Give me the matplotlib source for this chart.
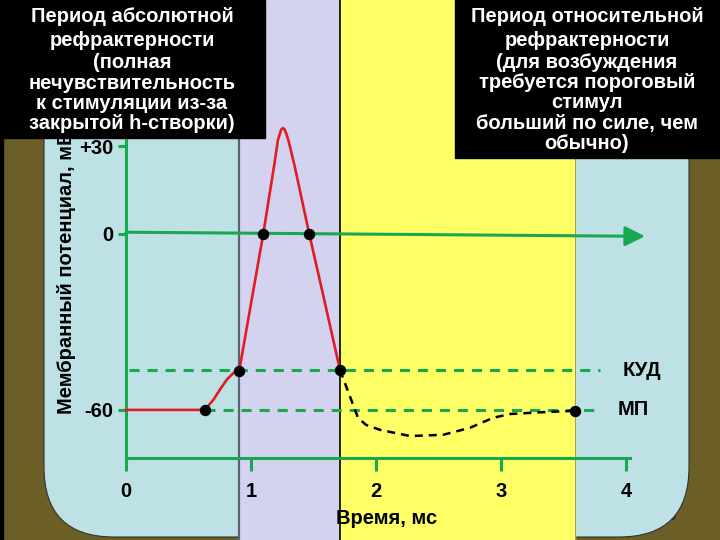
import matplotlib
matplotlib.use('Agg')
import matplotlib.pyplot as plt
from matplotlib.patches import Rectangle, FancyBboxPatch

plt.rcParams['font.family'] = ['Liberation Sans', 'DejaVu Sans']

# --- data (time in ms, potential in mV) ---
t_red = [0.0, 0.63, 0.70, 0.76, 0.81, 0.86, 0.906, 1.098, 1.192, 1.215, 1.24, 1.254,
         1.268, 1.285, 1.302, 1.35, 1.466, 1.592, 1.712]
v_red = [-60, -60, -56.5, -52.5, -49.5, -47.4, -46.6, 0, 25.2, 32.0, 35.5, 36.1,
         35.7, 33.9, 31.5, 23.0, 0, -23.6, -46.4]

t_rel = [1.712, 1.856, 1.92, 2.032, 2.272, 2.536, 2.752, 2.936, 3.072, 3.368, 3.592]
v_rel = [-46.4, -62.7, -65.1, -66.8, -68.9, -68.5, -66.1, -62.7, -61.4, -60.7, -60.3]

t_dots = [0.63, 0.906, 1.098, 1.466, 1.712, 3.592]
v_dots = [-60, -46.6, 0, 0, -46.4, -60.3]

kud_level = -46.4
mp_level = -60

x_ticks = [0, 1, 2, 3, 4]
y_ticks = [-60, 0, 30]
y_tick_labels = ['-60', '0', '+30']

left_box_lines = ['Период абсолютной', 'рефрактерности', '(полная',
                  'нечувствительность', 'к стимуляции из-за', 'закрытой h-створки)']
right_box_lines = ['Период относительной', 'рефрактерности', '(для возбуждения',
                   'требуется пороговый', 'стимул', 'больший по силе, чем', 'обычно)']

green = '#19a752'
red = '#e31b23'
fs = 14.5

fig = plt.figure(figsize=(7.2, 5.4), dpi=100)

# background / decoration in pixel coordinates
bg = fig.add_axes([0, 0, 1, 1])
bg.set_xlim(0, 720)
bg.set_ylim(540, 0)
bg.axis('off')
bg.add_patch(Rectangle((0, 0), 720, 540, color='#6b5e27', zorder=0))
bg.add_patch(Rectangle((0, 0), 3, 540, color='black', zorder=0.2))
bg.text(668, 516, '43', fontsize=12, color='#2e2e2e', ha='center', va='center', zorder=0.5)
bg.add_patch(FancyBboxPatch((44 + 70, -100 + 70), 645 - 140, 637 - 140,
                            boxstyle='round,pad=70', fc='#bde1e4', ec='#333333', lw=0.8, zorder=1))
bg.add_patch(Rectangle((239, 0), 101, 540, color='#d3d3ef', zorder=2))
bg.add_patch(Rectangle((340, 0), 235, 540, color='#ffff66', zorder=2))
bg.axvline(239, color='#5b6270', lw=1.6, zorder=3)
bg.axvline(340, color='black', lw=1.2, zorder=3)
bg.axvline(575, color='#8a8a60', lw=0.6, zorder=3)

bg.text(67, 272, 'Мембранный потенциал, мВ', rotation=90, fontsize=fs,
        fontweight='bold', ha='center', va='center', zorder=4)
bg.text(387, 519, 'Время, мс', fontsize=fs, fontweight='bold',
        ha='center', va='center', zorder=4)

bg.add_patch(Rectangle((0, 0), 265, 138, color='black', zorder=5))
bg.add_patch(Rectangle((455, 0), 265, 158, color='black', zorder=5))
left_y = [22, 46, 68, 89, 109, 129]
right_y = [22, 46, 68, 88, 108, 129, 149]
for s, y in zip(left_box_lines, left_y):
    bg.text(132, y, s, color='white', fontsize=14.5, fontweight='bold',
            ha='center', va='baseline', zorder=6)
for s, y in zip(right_box_lines, right_y):
    bg.text(587, y, s, color='white', fontsize=14.5, fontweight='bold',
            ha='center', va='baseline', zorder=6)

# chart axes: 125 px per ms, about 2.93 px per mV
ax = fig.add_axes([126 / 720, 1 - 458 / 540, 504 / 720, 318 / 540])
ax.set_zorder(2)
ax.patch.set_visible(False)
ax.set_xlim(0, 4.032)
ax.set_ylim(-76.4, 32.05)
for side in ['top', 'right']:
    ax.spines[side].set_visible(False)
for side in ['left', 'bottom']:
    ax.spines[side].set_color(green)
    ax.spines[side].set_linewidth(2.2)

ax.set_xticks(x_ticks)
ax.set_xticklabels([str(v) for v in x_ticks], fontsize=fs, fontweight='bold')
ax.set_yticks(y_ticks)
ax.set_yticklabels(y_tick_labels, fontsize=fs, fontweight='bold')
ax.tick_params(axis='x', direction='out', length=9, width=2.2, color=green, pad=8)
ax.tick_params(axis='y', direction='out', length=6, width=2.2, color=green, pad=3)

ax.hlines(kud_level, 0.02, 3.79, colors=green, lw=2.2, linestyles=(0, (3.3, 2.6)), zorder=2)
ax.hlines(mp_level, 0.63, 3.79, colors=green, lw=2.2, linestyles=(0, (3.3, 2.6)), zorder=2)

ax.annotate('', xy=(4.152, -0.8), xytext=(0, 0.6), annotation_clip=False,
            arrowprops=dict(arrowstyle='-|>,head_length=0.6,head_width=0.3',
                            mutation_scale=20, color=green, lw=2.2, shrinkA=0, shrinkB=0))

ax.plot(t_red, v_red, color=red, lw=1.9, clip_on=False, zorder=3)
ax.plot(t_rel, v_rel, color='black', lw=1.8, ls=(0, (3.2, 2.4)), clip_on=False, zorder=3)
ax.plot(t_dots, v_dots, 'o', color='black', ms=7.2, clip_on=False, zorder=4)

ax.text(3.97, kud_level, 'КУД', fontsize=fs, fontweight='bold', va='center', ha='left')
ax.text(3.93, mp_level, 'МП', fontsize=fs, fontweight='bold', va='center', ha='left')

fig.savefig('out.png', dpi=100)
